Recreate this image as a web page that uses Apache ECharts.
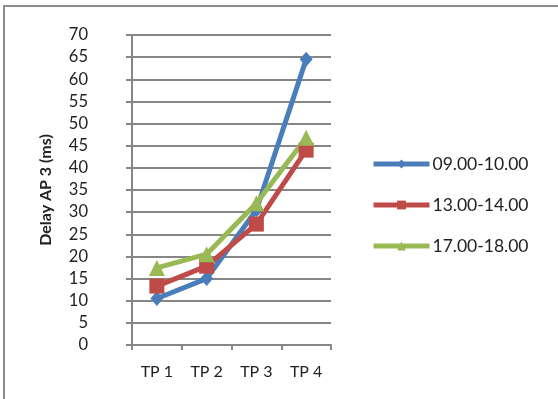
<!DOCTYPE html>
<html>
<head>
<meta charset="utf-8">
<script src="https://cdn.jsdelivr.net/npm/echarts@6/dist/echarts.min.js"></script>
<style>
  html, body { margin: 0; padding: 0; background: #fff; }
  #grafico { width: 558px; height: 399px; }
</style>
</head>
<body>
<div id="grafico"></div>
<script>
// dados
const categorias = ["TP 1", "TP 2", "TP 3", "TP 4"];
const pagi = [10.5, 15, 30.5, 64.5];
const siang = [13.3, 17.8, 27.3, 44];
const sore = [17.4, 20.5, 32, 46.8];
const nomes = ["09.00-10.00", "13.00-14.00", "17.00-18.00"];
const cores = ["#4a7ebb", "#be4b48", "#98b954"];

let myChart = echarts.init(document.getElementById("grafico"));

const fonte = "Lato, 'Open Sans', sans-serif";
const cinza = "#868686";

let option = {
    animation: false,
    color: cores,
    textStyle: { fontFamily: fonte },
    graphic: [
        {
            type: "rect",
            shape: { x: 4, y: 6, width: 600, height: 450 },
            style: { fill: "none", stroke: "#8c8c8c", lineWidth: 2 }
        }
    ],
    grid: { left: 132, right: 227, top: 35, bottom: 54 },
    legend: {
        orient: "vertical",
        left: 366,
        top: 150,
        itemWidth: 56,
        itemHeight: 11,
        itemGap: 23,
        lineStyle: { width: 5 },
        textStyle: { fontFamily: fonte, fontSize: 17.5, color: "#222", padding: [0, 0, 0, -2] },
        data: nomes
    },
    xAxis: {
        type: "category",
        data: categorias,
        boundaryGap: true,
        axisLine: { lineStyle: { color: cinza, width: 2 } },
        axisTick: { show: true, length: 5, alignWithLabel: false, lineStyle: { color: cinza, width: 2 } },
        axisLabel: { fontFamily: fonte, fontSize: 16, color: "#222", margin: 19 }
    },
    yAxis: {
        type: "value",
        min: 0,
        max: 70,
        interval: 5,
        name: "Delay AP 3 (ms)",
        nameLocation: "middle",
        nameRotate: 90,
        nameGap: 78,
        nameTextStyle: { fontFamily: fonte, fontSize: 16, fontWeight: "bold", color: "#222" },
        axisLine: { show: true, lineStyle: { color: cinza, width: 2 } },
        axisTick: { show: true, length: 6, lineStyle: { color: cinza, width: 2 } },
        splitLine: { lineStyle: { color: cinza, width: 2 } },
        axisLabel: { fontFamily: fonte, fontSize: 16.5, color: "#222", margin: 44 }
    },
    series: [
        {
            name: nomes[0],
            type: "line",
            data: pagi,
            symbol: "diamond",
            symbolSize: [13, 15],
            lineStyle: { width: 5 },
            itemStyle: { color: cores[0] }
        },
        {
            name: nomes[1],
            type: "line",
            data: siang,
            symbol: "rect",
            symbolSize: 15,
            lineStyle: { width: 5 },
            itemStyle: { color: cores[1] }
        },
        {
            name: nomes[2],
            type: "line",
            data: sore,
            symbol: "triangle",
            symbolSize: 16,
            lineStyle: { width: 5 },
            itemStyle: { color: cores[2] }
        }
    ]
};

myChart.setOption(option);
</script>
</body>
</html>
